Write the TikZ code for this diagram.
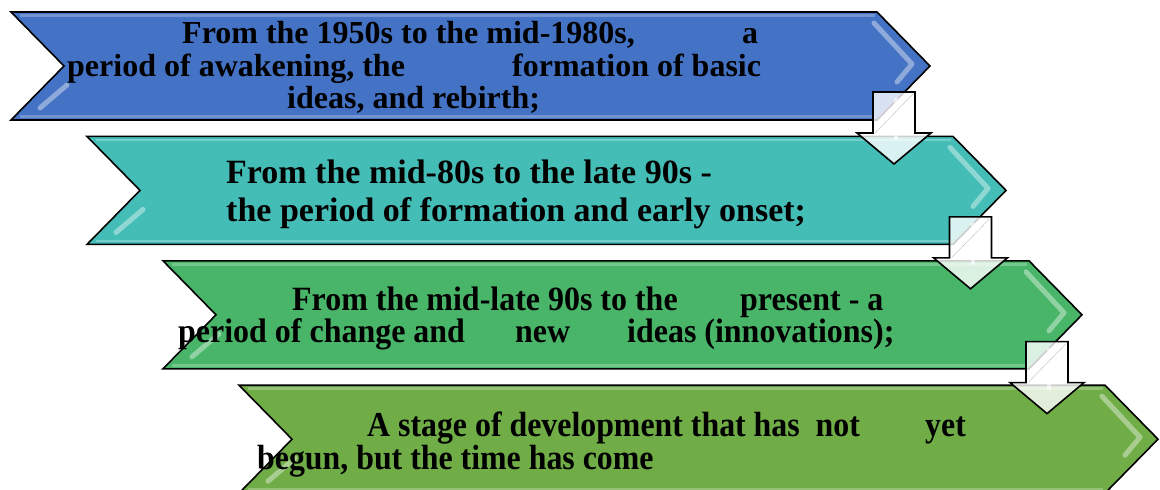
\documentclass[tikz,border=0pt]{standalone}
\usepackage{fontspec}
\setmainfont{Liberation Serif}
\definecolor{bandA}{HTML}{4472C4}
\definecolor{bandB}{HTML}{45BDB7}
\definecolor{bandC}{HTML}{48B569}
\definecolor{bandD}{HTML}{70AD47}
\begin{document}
\begin{tikzpicture}[x=1pt,y=-1pt]
       \tikzstyle{band} = [draw=black, line width=1.6pt, line join=miter];
       \tikzstyle{shine} = [white, opacity=0.4, line width=5pt, line cap=round, line join=round];
       \tikzstyle{glow} = [white, opacity=0.25, line width=2.5pt];
       \tikzstyle{drop} = [draw=black, line width=1.6pt, fill=white, fill opacity=0.8, line join=miter];
       \tikzstyle{words} = [anchor=base west, inner sep=0pt, font=\bfseries\fontsize{32}{32}\selectfont];
       \tikzstyle{wordsB} = [words, font=\bfseries\fontsize{34}{34}\selectfont];
       \tikzstyle{wordsC} = [words, font=\bfseries\fontsize{34}{34}\selectfont, xscale=0.94, transform shape];
       \tikzstyle{wordsD} = [words, font=\bfseries\fontsize{35}{35}\selectfont, xscale=0.91, transform shape];

       \useasboundingbox (0,0) rectangle (1160,490);

       % four bands, each one stepped right and down
       \foreach \i/\col in {0/bandA,1/bandB,2/bandC,3/bandD}{
         \begin{scope}[shift={(76*\i,124.4*\i)}]
           \fill[\col] (11,12) -- (877,12) -- (930,66) -- (877,120) -- (11,120) -- (64,66) -- cycle;
           \draw[glow] (20,15.5) -- (875,15.5);
           \draw[glow] (20,116.5) -- (875,116.5);
           \draw[shine] (874,23) -- (912,64) -- (897,82);
           \draw[shine] (67,85) -- (40,108);
           \draw[band] (11,12) -- (877,12) -- (930,66) -- (877,120) -- (11,120) -- (64,66) -- cycle;
         \end{scope}
       }

       % down arrows between the bands
       \foreach \i in {0,1,2}{
         \begin{scope}[shift={(76.5*\i,124.8*\i)}]
           \draw[drop] (873,92) -- (915,92) -- (915,133) -- (931,133) -- (894,164) -- (857,133) -- (873,133) -- cycle;
           \draw[white, opacity=0.6, line width=4pt] (896,98) -- (896,140);
           \draw[black!25, line width=0.4pt] (875,133) -- (913,94);
         \end{scope}
       }

       % first band
       \node[words] (from50) at (182,43) {From the 1950s to the mid-1980s,};
       \node[words] (a1) at (742,43) {a};
       \node[words] (awaken) at (67,76) {period of awakening, the};
       \node[words] (basic) at (512,76) {formation of basic};
       \node[words] (rebirth) at (287,108) {ideas, and rebirth;};

       % second band
       \node[wordsB] (from80) at (226,183) {From the mid-80s to the late 90s -};
       \node[wordsB] (onset) at (226,221) {the period of formation and early onset;};

       % third band
       \node[wordsC] (from90) at (292,310) {From the mid-late 90s to the};
       \node[wordsC] (present) at (740,310) {present - a};
       \node[wordsC] (change) at (178,342) {period of change and};
       \node[wordsC] (new) at (515,342) {new};
       \node[wordsC] (innov) at (627,342) {ideas (innovations);};

       % fourth band
       \node[wordsD] (stage) at (367,436) {A stage of development that has\ \ not};
       \node[wordsD] (yet) at (925,436) {yet};
       \node[wordsD] (begun) at (257,469) {begun, but the time has come};
\end{tikzpicture}
\end{document}
